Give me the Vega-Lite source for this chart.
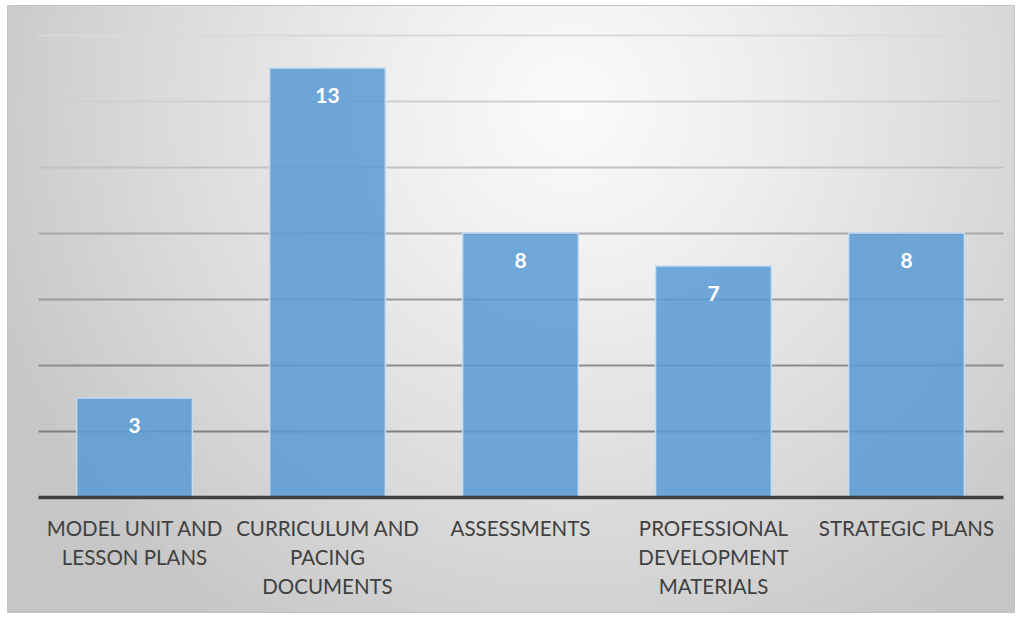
{
  "$schema": "https://vega.github.io/schema/vega-lite/v6.json",
  "width": 1007,
  "height": 607,
  "autosize": {"type": "none"},
  "padding": {"left": 7, "top": 5, "right": 7, "bottom": 5},
  "background": "#ffffff",
  "config": {
    "font": "Lato",
    "view": {
      "stroke": "#c4c4c4",
      "strokeWidth": 1,
      "fill": {
        "gradient": "radial",
        "x1": 0.56, "y1": 0.3, "r1": 0,
        "x2": 0.56, "y2": 0.3, "r2": 0.62,
        "stops": [
          {"offset": 0, "color": "#fbfbfb"},
          {"offset": 0.3, "color": "#eeeeee"},
          {"offset": 0.7, "color": "#d8d8d8"},
          {"offset": 1, "color": "#c6c6c6"}
        ]
      }
    }
  },
  "data": {
    "values": [
      {"category": "MODEL UNIT AND LESSON PLANS", "count": 3},
      {"category": "CURRICULUM AND PACING DOCUMENTS", "count": 13},
      {"category": "ASSESSMENTS", "count": 8},
      {"category": "PROFESSIONAL DEVELOPMENT MATERIALS", "count": 7},
      {"category": "STRATEGIC PLANS", "count": 8}
    ]
  },
  "encoding": {
    "x": {
      "field": "category",
      "type": "nominal",
      "sort": null,
      "scale": {"range": [31, 996], "paddingInner": 0.4, "paddingOuter": 0.2},
      "axis": {
        "title": null,
        "labelAngle": 0,
        "ticks": false,
        "tickSize": 0,
        "offset": -115,
        "zindex": 1,
        "domainColor": "#404040",
        "domainWidth": 3.5,
        "labelFont": "Lato",
        "labelFontSize": 20.5,
        "labelColor": "#404040",
        "labelPadding": 22,
        "labelLineHeight": 29,
        "labelBaseline": "top",
        "labelLimit": 400,
        "labelExpr": "datum.value == 'MODEL UNIT AND LESSON PLANS' ? ['MODEL UNIT AND', 'LESSON PLANS'] : datum.value == 'CURRICULUM AND PACING DOCUMENTS' ? ['CURRICULUM AND', 'PACING', 'DOCUMENTS'] : datum.value == 'PROFESSIONAL DEVELOPMENT MATERIALS' ? ['PROFESSIONAL', 'DEVELOPMENT', 'MATERIALS'] : datum.value"
      }
    }
  },
  "layer": [
    {
      "mark": {"type": "bar", "fill": "#5b9bd5", "fillOpacity": 0.86, "stroke": "#c6dcf1", "strokeWidth": 1.5},
      "encoding": {
        "y": {
          "field": "count",
          "type": "quantitative",
          "scale": {"domain": [0, 14], "range": [492, 30], "nice": false, "zero": true},
          "axis": {
            "title": null,
            "labels": false,
            "ticks": false,
            "domain": false,
            "grid": true,
            "values": [2, 4, 6, 8, 10, 12, 14],
            "gridWidth": 2,
            "gridColor": {
              "condition": [
                {"test": "datum.value >= 14", "value": "#dadada"},
                {"test": "datum.value >= 12", "value": "#cfcfcf"},
                {"test": "datum.value >= 10", "value": "#c2c2c2"},
                {"test": "datum.value >= 8", "value": "#a8a8a8"},
                {"test": "datum.value >= 6", "value": "#9a9a9a"},
                {"test": "datum.value >= 4", "value": "#8c8c8c"}
              ],
              "value": "#808080"
            }
          }
        }
      }
    },
    {
      "mark": {"type": "text", "dy": 29, "baseline": "middle", "align": "center", "font": "Lato", "fontSize": 21, "fontWeight": "bold", "color": "#ffffff"},
      "encoding": {
        "y": {"field": "count", "type": "quantitative"},
        "text": {"field": "count", "type": "quantitative"}
      }
    }
  ]
}
